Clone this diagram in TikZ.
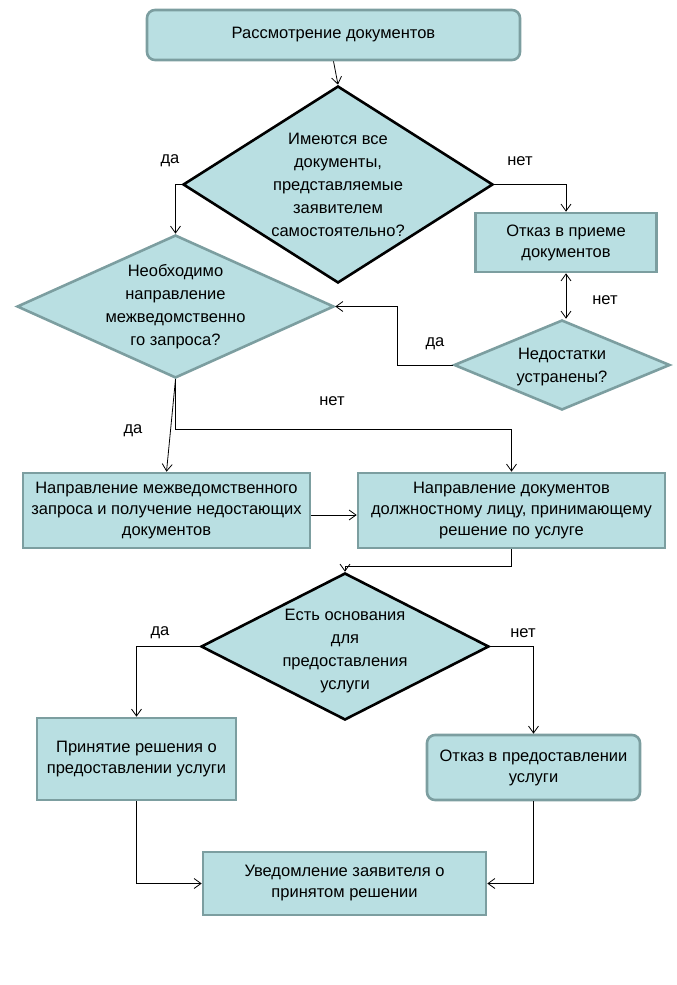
\documentclass[tikz,border=0pt]{standalone}
\usepackage{fontspec}
\setmainfont{Liberation Sans}
\usetikzlibrary{shapes.geometric,arrows.meta}
\definecolor{boxfill}{RGB}{185,223,226}
\definecolor{boxline}{RGB}{124,158,160}
\tikzset{
  stepbox/.style={draw=boxline,line width=2.6pt,fill=boxfill,align=center,
    inner sep=0pt,font=\fontsize{16.5}{21}\selectfont},
  roundbox/.style={stepbox,rounded corners=8pt},
  ask/.style={diamond,fill=boxfill,line width=2.6pt,inner sep=0pt},
  asktext/.style={align=center,inner sep=0pt,font=\fontsize{16.5}{23}\selectfont},
  answer/.style={inner sep=0pt,font=\fontsize{16.5}{19}\selectfont},
  flow/.style={black,line width=0.8pt,>={Straight Barb[length=7pt,width=10pt]}}
}
\begin{document}
\begin{tikzpicture}[x=1pt,y=-1pt]
  \useasboundingbox (0,0) rectangle (677,985);
  % boxes
  \node[roundbox,minimum width=373pt,minimum height=50pt] (rev) at (333.5,35) {Рассмотрение документов};
  \node[stepbox,minimum width=181pt,minimum height=59pt] (refuse) at (566,242.5) {Отказ в приеме\\документов};
  \node[stepbox,minimum width=287pt,minimum height=75pt] (zapros) at (166.5,510.5) {Направление межведомственного\\запроса и получение недостающих\\документов};
  \node[stepbox,minimum width=307pt,minimum height=75pt] (send) at (511.5,510.5) {Направление документов\\должностному лицу, принимающему\\решение по услуге};
  \node[stepbox,minimum width=199pt,minimum height=82pt] (grant) at (136.5,759) {Принятие решения о\\предоставлении услуги};
  \node[roundbox,minimum width=213pt,minimum height=65pt] (deny) at (533.5,767.5) {Отказ в предоставлении\\услуги};
  \node[stepbox,minimum width=283pt,minimum height=63pt] (notify) at (344.5,883.5) {Уведомление заявителя о\\принятом решении};
  % decisions
  \node[ask,draw=black,minimum width=310pt,minimum height=197pt] (allDocs) at (338,184.5) {};
  \node[asktext] at (allDocs) {Имеются все\\документы,\\представляемые\\заявителем\\самостоятельно?};
  \node[ask,draw=boxline,minimum width=317pt,minimum height=143pt] (needReq) at (175.5,306.5) {};
  \node[asktext] at (needReq) {Необходимо\\направление\\межведомственно\\го запроса?};
  \node[ask,draw=boxline,minimum width=216pt,minimum height=90pt] (fixed) at (562,365) {};
  \node[asktext,yshift=-2pt] at (fixed) {Недостатки\\устранены?};
  \node[ask,draw=black,minimum width=288pt,minimum height=147pt] (grounds) at (345,646.5) {};
  \node[asktext,yshift=-5pt] at (grounds) {Есть основания\\для\\предоставления\\услуги};
  % connectors
  \draw[flow,->] (rev.south) -- (allDocs.north);
  \draw[flow,->] (allDocs.west) -| (needReq.north);
  \draw[flow,->] (allDocs.east) -| (refuse.north);
  \draw[flow,<->] (refuse.south) -- (refuse.south |- fixed.north);
  \draw[flow,->] (fixed.west) -- ++(-55,0) |- (needReq.east);
  \draw[flow,->] (needReq.south) -- (zapros.north);
  \draw[flow,->] (needReq.south) -- ++(0,50) -| (send.north);
  \draw[flow,->] (zapros.east |- 0,515) -- (send.west |- 0,515);
  \draw[flow,->] (send.south) -- ++(0,17) -| (grounds.north);
  \draw[flow,->] (grounds.west) -| (grant.north);
  \draw[flow,->] (grounds.east) -| (deny.north);
  \draw[flow,->] (grant.south) |- (notify.west);
  \draw[flow,->] (deny.south) |- (notify.east);
  % answers
  \node[answer] (a1) at (170,161) {да};
  \node[answer] (a2) at (520,161) {нет};
  \node[answer] (a3) at (605,300) {нет};
  \node[answer] (a4) at (435,344) {да};
  \node[answer] (a5) at (332,401) {нет};
  \node[answer] (a6) at (133,431) {да};
  \node[answer] (a7) at (160,633) {да};
  \node[answer] (a8) at (523,633) {нет};
\end{tikzpicture}
\end{document}
